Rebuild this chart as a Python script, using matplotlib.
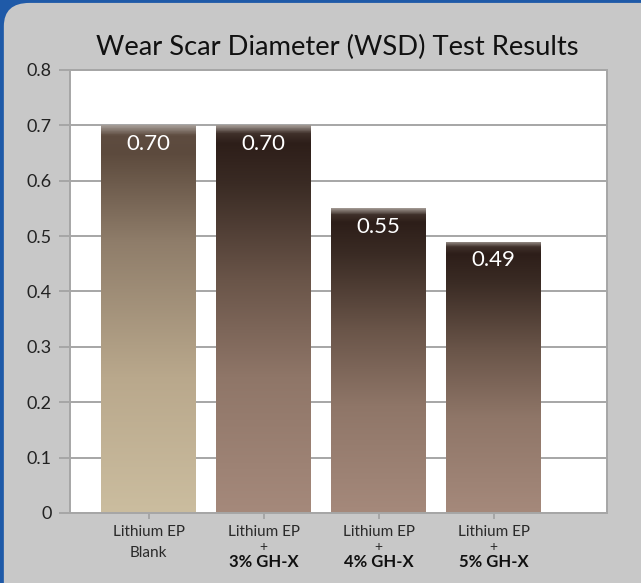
import numpy as np
import matplotlib.pyplot as plt
from matplotlib.colors import LinearSegmentedColormap
from matplotlib.patches import FancyBboxPatch

# data
categories = ["Lithium EP Blank", "Lithium EP + 3% GH-X", "Lithium EP + 4% GH-X", "Lithium EP + 5% GH-X"]
label_top = ["Lithium EP", "Lithium EP", "Lithium EP", "Lithium EP"]
label_bottom = ["Blank", "3% GH-X", "4% GH-X", "5% GH-X"]
wsd = [0.70, 0.70, 0.55, 0.49]
yticks = [0, 0.1, 0.2, 0.3, 0.4, 0.5, 0.6, 0.7, 0.8]

FONT = ["Lato", "DejaVu Sans"]
GRID = "#a6a6a6"

# bar gradients (bottom -> top)
cmap_blank = LinearSegmentedColormap.from_list(
    "blank", [(0, "#cbbd9f"), (0.35, "#b9a88c"), (0.7, "#8f7d6a"), (0.93, "#5c4a3d"), (0.975, "#5e4c40"), (1, "#a39a94")])
cmap_add = LinearSegmentedColormap.from_list(
    "add", [(0, "#a5897b"), (0.35, "#8f7668"), (0.6, "#6a5549"), (0.85, "#3a2b24"), (0.955, "#2d1e19"), (0.98, "#3f302a"), (1, "#9e958f")])
cmaps = [cmap_blank, cmap_add, cmap_add, cmap_add]

fig = plt.figure(figsize=(6.41, 5.83), dpi=100)
fig.patch.set_facecolor("#1f5aa8")
panel = FancyBboxPatch((0.006, -0.05), 0.994 - 0.006 + 0.05, 1.045, transform=fig.transFigure,
                       boxstyle="round,pad=0,rounding_size=0.04", facecolor="#c8c8c8",
                       edgecolor="none", zorder=-10)
fig.patches.append(panel)

ax = fig.add_axes([0.1092, 0.1201, 0.947 - 0.1092, 0.880 - 0.1201])
ax.set_facecolor("white")

x = np.arange(len(wsd))
bars = ax.bar(x, wsd, width=0.826, color="none", zorder=2)
grad = np.linspace(0, 1, 256).reshape(-1, 1)
for b, cm, v in zip(bars, cmaps, wsd):
    x0, w = b.get_x(), b.get_width()
    im = ax.imshow(grad, cmap=cm, origin="lower", aspect="auto",
                   extent=[x0, x0 + w, 0, b.get_height()], zorder=2)
    im.set_clip_path(b)
    ax.annotate(f"{v:.2f}", (b.get_x() + w / 2, v), xytext=(0, -13.5), textcoords="offset points",
                ha="center", va="center", color="white", fontsize=16, family=FONT, zorder=3)

ax.set_xlim(-0.683, 3.987)
ax.set_ylim(0, 0.8)
ax.set_yticks(yticks)
ax.set_yticklabels([f"{t:g}" for t in yticks], fontsize=13, family=FONT, color="#222222")
ax.yaxis.grid(True, color=GRID, linewidth=1.4, zorder=1)
ax.set_axisbelow(True)
ax.tick_params(axis="y", length=8, width=1.4, color=GRID, pad=5)
ax.set_xticks(x)
ax.set_xticklabels([])
ax.tick_params(axis="x", length=4.5, width=1.4, color=GRID)
for s in ax.spines.values():
    s.set_color(GRID)
    s.set_linewidth(1.4)

tr = ax.get_xaxis_transform()
for i in range(len(wsd)):
    ax.text(i, -0.043, label_top[i], transform=tr, ha="center", va="center",
            fontsize=11, family=FONT, color="#2a2a2a")
    if i == 0:
        ax.text(i, -0.090, label_bottom[i], transform=tr, ha="center", va="center",
                fontsize=11, family=FONT, color="#2a2a2a")
    else:
        ax.text(i, -0.077, "+", transform=tr, ha="center", va="center",
                fontsize=10, family=FONT, color="#2a2a2a")
        ax.text(i, -0.111, label_bottom[i], transform=tr, ha="center", va="center",
                fontsize=12, family=FONT, fontweight="bold", color="#111111")

fig.text(0.527, 0.919, "Wear Scar Diameter (WSD) Test Results", ha="center", va="center",
         fontsize=19.7, family=FONT, color="#111111")

fig.savefig("out.png", dpi=100, facecolor=fig.get_facecolor())
